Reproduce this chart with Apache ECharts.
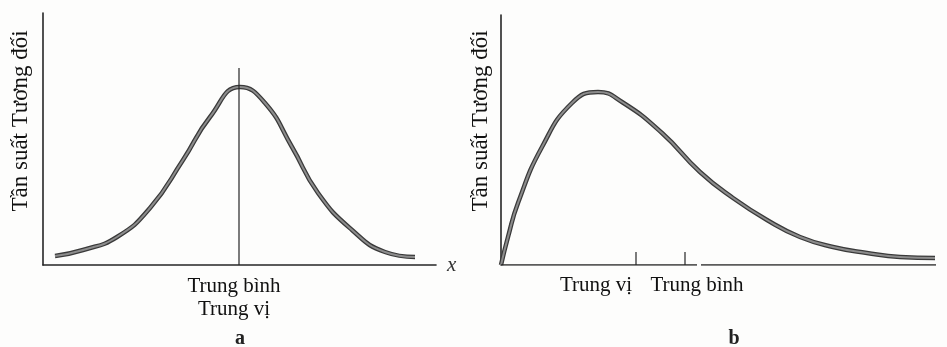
<!DOCTYPE html>
<html>
<head>
<meta charset="utf-8">
<script src="https://cdn.jsdelivr.net/npm/echarts@6/dist/echarts.min.js"></script>
<style>
  html, body { margin: 0; padding: 0; background: #fdfdfc; }
  #chart { width: 947px; height: 347px; }
</style>
</head>
<body>
<div id="chart"></div>
<script>
// a: phan phoi doi xung (x, tan suat) - don vi doc tu hinh
var curveA = [
  [12, 9], [40, 15], [74, 28], [107, 57], [140, 105], [167, 148], [197, 178],
  [222, 162], [249, 118], [275, 72], [309, 35], [342, 13], [372, 8]
]
var centerLineA = [[196, 0], [196, 197]]

// b: phan phoi lech phai
var curveB = [
  [0, 0], [7, 28], [17, 62], [41, 118], [71, 162], [97, 173], [121, 163],
  [161, 132], [199, 93], [232, 67], [266, 45], [299, 28], [332, 18],
  [366, 12], [399, 8], [434, 7]
]
var axisPartsB = [[[0, 0], [196, 0]], [[200, 0], [435, 0]]]
var medianB = 135
var meanB = 184
var tickHeight = 13

var yTitle = 'Tần suất Tương đối'
var labelA = 'Trung bình\nTrung vị'
var labelsB = ['Trung vị', 'Trung bình']
var labelPosB = [95, 196]

var serif = "'Liberation Serif', 'Times New Roman', serif"
var ink = '#262626'

function curveSeries(data, idx) {
  return [{
    type: 'line', xAxisIndex: idx, yAxisIndex: idx, data: data,
    smooth: true, symbol: 'none', silent: true,
    lineStyle: { color: '#3a3a3a', width: 4.5 }
  }, {
    type: 'line', xAxisIndex: idx, yAxisIndex: idx, data: data,
    smooth: true, symbol: 'none', silent: true,
    lineStyle: { color: '#8c8c8c', width: 2 }
  }]
}

function plainLine(data, idx, width) {
  return {
    type: 'line', xAxisIndex: idx, yAxisIndex: idx, data: data,
    symbol: 'none', silent: true,
    lineStyle: { color: ink, width: width }
  }
}

var chart = echarts.init(document.getElementById('chart'))

var series = []
series = series.concat(curveSeries(curveA, 0))
series.push(plainLine(centerLineA, 0, 1.2))
series = series.concat(curveSeries(curveB, 1))
axisPartsB.forEach(function (p) { series.push(plainLine(p, 1, 1.6)) })
series.push(plainLine([[medianB, 0], [medianB, tickHeight]], 1, 1.2))
series.push(plainLine([[meanB, 0], [meanB, tickHeight]], 1, 1.2))

chart.setOption({
  animation: false,
  backgroundColor: '#fdfdfc',
  grid: [
    { left: 43, top: 13, width: 393, height: 252 },
    { left: 501, top: 15, width: 435, height: 250 }
  ],
  xAxis: [{
    type: 'value', gridIndex: 0, min: 0, max: 393,
    splitLine: { show: false }, axisTick: { show: false },
    axisLine: { lineStyle: { color: ink, width: 1.6 } },
    name: 'x', nameLocation: 'end', nameGap: 11,
    nameTextStyle: { fontFamily: serif, fontStyle: 'italic', fontSize: 21, color: '#333' },
    axisLabel: {
      customValues: [191], margin: 10,
      formatter: function () { return labelA },
      fontFamily: serif, fontSize: 21, lineHeight: 23, color: '#111'
    }
  }, {
    type: 'value', gridIndex: 1, min: 0, max: 435,
    splitLine: { show: false }, axisTick: { show: false },
    axisLine: { show: false },
    axisLabel: {
      customValues: labelPosB, margin: 10,
      formatter: function (v) { return labelsB[labelPosB.indexOf(v)] },
      fontFamily: serif, fontSize: 21, color: '#111'
    }
  }],
  yAxis: [{
    type: 'value', gridIndex: 0, min: 0, max: 252,
    splitLine: { show: false }, axisTick: { show: false }, axisLabel: { show: false },
    axisLine: { show: true, lineStyle: { color: ink, width: 1.6 } }
  }, {
    type: 'value', gridIndex: 1, min: 0, max: 250,
    splitLine: { show: false }, axisTick: { show: false }, axisLabel: { show: false },
    axisLine: { show: true, lineStyle: { color: ink, width: 1.6 } }
  }],
  graphic: [
    { type: 'text', x: 21, y: 121, rotation: Math.PI / 2,
      style: { text: yTitle, font: '23px ' + serif, fill: '#111', align: 'center', verticalAlign: 'middle' } },
    { type: 'text', x: 481, y: 121, rotation: Math.PI / 2,
      style: { text: yTitle, font: '23px ' + serif, fill: '#111', align: 'center', verticalAlign: 'middle' } },
    { type: 'text', x: 240, y: 339,
      style: { text: 'a', font: 'bold 20px ' + serif, fill: '#222', align: 'center', verticalAlign: 'middle' } },
    { type: 'text', x: 734, y: 339,
      style: { text: 'b', font: 'bold 20px ' + serif, fill: '#222', align: 'center', verticalAlign: 'middle' } }
  ],
  series: series
})
</script>
</body>
</html>
